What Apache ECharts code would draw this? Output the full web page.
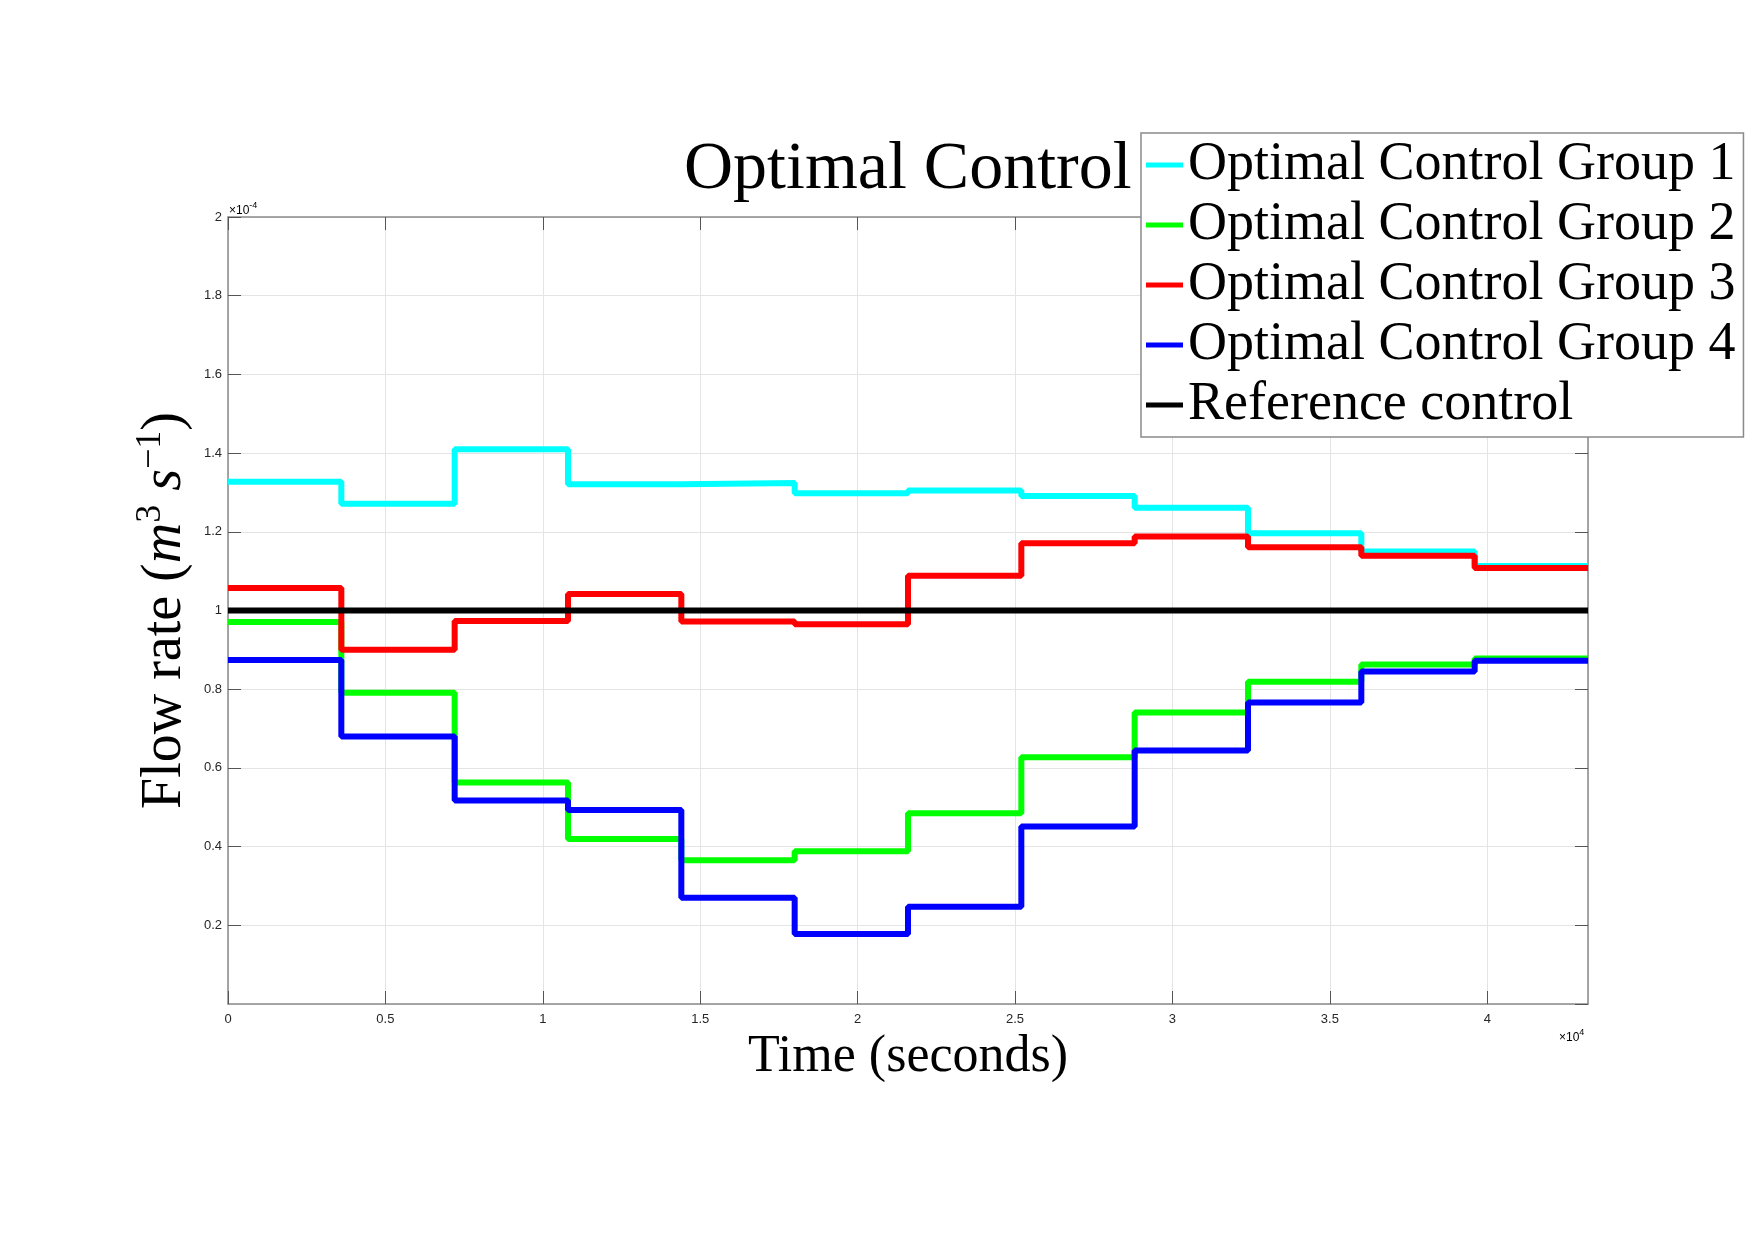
<!DOCTYPE html>
<html>
<head>
<meta charset="utf-8">
<title>Optimal Control</title>
<script src="https://cdn.jsdelivr.net/npm/echarts@6/dist/echarts.min.js"></script>
<style>
  html, body { margin: 0; padding: 0; background: #fff; }
  #main { width: 1755px; height: 1240px; }
</style>
</head>
<body>
<div id="main"></div>
<script>
// start time of each control step (seconds), last entry closes the final step
var stepTimes = [0, 3600, 7200, 10800, 14400, 18000, 21600, 25200, 28800, 32400, 36000, 39600, 43200];

// flow rates in units of 1e-4 m^3/s, one value per step
var group1 = [1.327, 1.271, 1.410, 1.321, 1.324, 1.298, 1.305, 1.291, 1.261, 1.196, 1.150, 1.113];
var group2 = [0.971, 0.791, 0.563, 0.419, 0.365, 0.388, 0.485, 0.627, 0.741, 0.819, 0.863, 0.878];
var group3 = [1.057, 0.900, 0.973, 1.042, 0.972, 0.965, 1.088, 1.171, 1.188, 1.161, 1.139, 1.108];
var group4 = [0.874, 0.680, 0.517, 0.493, 0.270, 0.178, 0.247, 0.451, 0.644, 0.766, 0.845, 0.872];
var referenceCtrl = [1, 1, 1, 1, 1, 1, 1, 1, 1, 1, 1, 1];

var seriesNames = ["Optimal Control Group 1", "Optimal Control Group 2", "Optimal Control Group 3",
  "Optimal Control Group 4", "Reference control"];
var seriesColors = ["#00ffff", "#00ff00", "#ff0000", "#0000ff", "#000000"];

function toSteps(vals) {
  return stepTimes.map(function (t, i) {
    return [t, vals[Math.min(i, vals.length - 1)]];
  });
}

var allValues = [group1, group2, group3, group4, referenceCtrl];

var serif = "Liberation Serif";
var sans = "Liberation Sans";
var axisGrey = "#8a8a8a";

var myChart = echarts.init(document.getElementById("main"));

var option = {
  animation: false,
  backgroundColor: "#fff",
  color: seriesColors,
  title: {
    text: "Optimal Control",
    left: 684,
    top: 136,
    padding: 0,
    textStyle: { fontFamily: serif, fontWeight: "normal", fontSize: 68, color: "#000" }
  },
  legend: {
    orient: "vertical",
    left: 1141,
    top: 133,
    padding: [2, 8, 2, 5],
    itemGap: 0,
    itemWidth: 37,
    itemHeight: 5,
    icon: "rect",
    backgroundColor: "#fff",
    borderColor: axisGrey,
    borderWidth: 1.5,
    z: 10,
    data: seriesNames,
    textStyle: { fontFamily: serif, fontSize: 54, lineHeight: 60, color: "#000" }
  },
  grid: { left: 228, top: 217, width: 1360, height: 787, show: false },
  xAxis: [
    {
      type: "value", min: 0, max: 43200, interval: 5000,
      name: "Time (seconds)", nameLocation: "middle", nameGap: 22,
      nameTextStyle: { fontFamily: serif, fontSize: 52, color: "#000" },
      axisLine: { onZero: false, lineStyle: { color: axisGrey, width: 1.5 } },
      axisTick: { inside: true, length: 13, lineStyle: { color: "#555" } },
      axisLabel: {
        margin: 9, fontFamily: sans, fontSize: 13, color: "#262626", showMaxLabel: false,
        formatter: function (v) { return String(+(v / 10000).toFixed(2)); }
      },
      splitLine: { show: true, lineStyle: { color: "#e4e4e4", width: 1 } }
    },
    {
      type: "value", min: 0, max: 43200, interval: 5000, position: "top",
      axisLine: { onZero: false, lineStyle: { color: axisGrey, width: 1.5 } },
      axisTick: { inside: true, length: 13, lineStyle: { color: "#555" } },
      axisLabel: { show: false },
      splitLine: { show: false }
    }
  ],
  yAxis: [
    {
      type: "value", min: 0, max: 2, interval: 0.2,
      name: "{n|Flow rate (}{i|m}{sup|3}{n| }{i|s}{sup|\u22121}{n|)}",
      nameLocation: "middle", nameRotate: 90, nameGap: 23,
      nameTextStyle: {
        color: "#000",
        rich: {
          n: { fontFamily: serif, fontSize: 56, lineHeight: 64, color: "#000" },
          i: { fontFamily: serif, fontStyle: "italic", fontSize: 56, lineHeight: 64, color: "#000" },
          sup: { fontFamily: serif, fontSize: 36, lineHeight: 64, verticalAlign: "top", color: "#000" }
        }
      },
      axisLine: { onZero: false, lineStyle: { color: axisGrey, width: 1.5 } },
      axisTick: { inside: true, length: 13, lineStyle: { color: "#555" } },
      axisLabel: { margin: 6, fontFamily: sans, fontSize: 13, color: "#262626", showMinLabel: false },
      splitLine: { show: true, lineStyle: { color: "#e4e4e4", width: 1 } }
    },
    {
      type: "value", min: 0, max: 2, interval: 0.2, position: "right",
      axisLine: { onZero: false, lineStyle: { color: axisGrey, width: 1.5 } },
      axisTick: { inside: true, length: 13, lineStyle: { color: "#555" } },
      axisLabel: { show: false },
      splitLine: { show: false }
    }
  ],
  graphic: [
    {
      type: "text", left: 229, top: 201,
      style: {
        text: "{a|\u00d710}{s|-4}",
        rich: {
          a: { fontFamily: sans, fontSize: 12, color: "#262626", lineHeight: 16, verticalAlign: "bottom" },
          s: { fontFamily: sans, fontSize: 9, color: "#262626", lineHeight: 16, verticalAlign: "top" }
        }
      }
    },
    {
      type: "text", left: 1559, top: 1028,
      style: {
        text: "{a|\u00d710}{s|4}",
        rich: {
          a: { fontFamily: sans, fontSize: 12, color: "#262626", lineHeight: 16, verticalAlign: "bottom" },
          s: { fontFamily: sans, fontSize: 9, color: "#262626", lineHeight: 16, verticalAlign: "top" }
        }
      }
    }
  ],
  series: allValues.map(function (vals, k) {
    return {
      name: seriesNames[k],
      type: "line",
      step: "end",
      showSymbol: false,
      symbol: "none",
      xAxisIndex: 0,
      yAxisIndex: 0,
      lineStyle: { width: 6, color: seriesColors[k] },
      itemStyle: { color: seriesColors[k] },
      data: toSteps(vals)
    };
  })
};

myChart.setOption(option);
</script>
</body>
</html>
